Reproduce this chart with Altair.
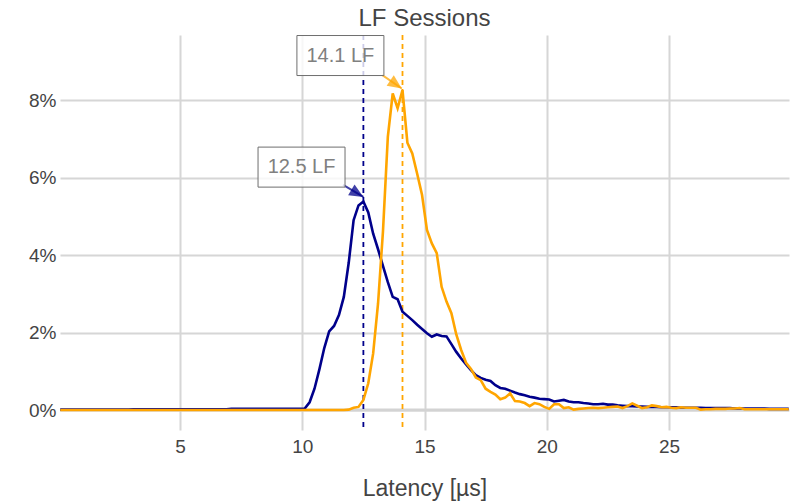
import math
import altair as alt
import pandas as pd

# ---------------- data ----------------
# latency bin centres (µs)
latency = [round(0.1 + 0.2 * i, 1) for i in range(150)]

# share of sessions, series 1 (dark blue)
blue_share = (
    [0.0001] * 15 + [0.0002] * 20 + [0.0003] * 15 +
    [0.0004, 0.0020, 0.0055, 0.0105, 0.0160, 0.0203, 0.0217, 0.0245, 0.0292, 0.0380,
     0.0490, 0.0528, 0.0538, 0.0510, 0.0455, 0.0415, 0.0372, 0.0330, 0.0292, 0.0286,
     0.0254, 0.0243, 0.0232, 0.0220, 0.0209, 0.0198, 0.0189, 0.0195, 0.0191, 0.0190,
     0.0170, 0.0150, 0.0133, 0.0118, 0.0103, 0.0090, 0.0083, 0.0078, 0.0075, 0.0064,
     0.0057, 0.0055, 0.0050, 0.0045, 0.0041, 0.0038, 0.0034, 0.0032, 0.0029, 0.0028,
     0.0027, 0.0022, 0.0024, 0.0026, 0.0022, 0.0020, 0.0020, 0.0018, 0.0017, 0.0015,
     0.0015, 0.0016, 0.0014, 0.0014, 0.0012, 0.0011, 0.0010, 0.0010, 0.0009, 0.0009,
     0.0008, 0.0008, 0.0008, 0.0007, 0.0007,
     0.0007, 0.0007, 0.0006, 0.0006, 0.0006, 0.0006, 0.0006, 0.0005, 0.0005, 0.0005,
     0.0005, 0.0005, 0.0005, 0.0004, 0.0004, 0.0004, 0.0004, 0.0004, 0.0004, 0.0004,
     0.0003, 0.0003, 0.0003, 0.0003, 0.0003]
)

# share of sessions, series 2 (orange)
orange_share = (
    [0.0] * 59 + [0.0001] +
    [0.0006, 0.0008, 0.0026, 0.0069, 0.0146, 0.0275, 0.0460, 0.0705, 0.0817, 0.0779,
     0.0826, 0.0690, 0.0662, 0.0610, 0.0555, 0.0465, 0.0430, 0.0405, 0.0318, 0.0280,
     0.0250, 0.0195, 0.0155, 0.0122, 0.0106, 0.0084, 0.0077, 0.0055, 0.0047, 0.0040,
     0.0028, 0.0032, 0.0043, 0.0023, 0.0022, 0.0018, 0.0010, 0.0018, 0.0015, 0.0008,
     0.0003, 0.0015, 0.0015, 0.0005, 0.0007, 0.0001, 0.0003, 0.0004, 0.0005, 0.0006,
     0.0005, 0.0006, 0.0007, 0.0008, 0.0009, 0.0005, 0.0010, 0.0017, 0.0011, 0.0005,
     0.0007, 0.0012, 0.0010, 0.0007, 0.0008,
     0.0006, 0.0005, 0.0007, 0.0006, 0.0006, 0.0006, 0.0001, 0.0002, 0.0002, 0.0003,
     0.0003, 0.0003, 0.0004, 0.0004, 0.0005, 0.0002, 0.0002, 0.0002, 0.0002, 0.0002,
     0.0002, 0.0002, 0.0002, 0.0002, 0.0002]
)
assert len(blue_share) == len(orange_share) == len(latency)

# peak markers / annotations
peak_x = [12.5, 14.1]
ann_label = ["12.5 LF", "14.1 LF"]
ann_color = ["#00008b", "#ffa500"]
ann_box_x = [9.97, 11.56]
ann_box_y = [0.0627, 0.0915]
ann_tail_x = [11.67, 13.26]
ann_tail_y = [0.0581, 0.0865]
ann_tip_x = [12.50, 14.07]
ann_tip_y = [0.0550, 0.0830]

# ---------------- layout ----------------
W, H = 729, 395
X_DOM = [0.09, 29.91]
Y_DOM = [-0.00516, 0.0968]
FONT = "Liberation Sans"
GRID = "#d6d6d6"

xs = alt.Scale(domain=X_DOM, nice=False, zero=False)
ys = alt.Scale(domain=Y_DOM, nice=False, zero=False)

def ang(i):
    dx = (ann_tip_x[i] - ann_tail_x[i]) * W / (X_DOM[1] - X_DOM[0])
    dy = -(ann_tip_y[i] - ann_tail_y[i]) * H / (Y_DOM[1] - Y_DOM[0])
    return math.degrees(math.atan2(dy, dx))

ann = pd.DataFrame({
    "label": ann_label, "color": ann_color,
    "bx": ann_box_x, "by": ann_box_y,
    "tx": ann_tail_x, "ty": ann_tail_y,
    "hx": ann_tip_x, "hy": ann_tip_y,
    "angle": [ang(0), ang(1)],
})

df_blue = pd.DataFrame({"x": latency, "y": blue_share})
df_orange = pd.DataFrame({"x": latency, "y": orange_share})
df_peak = pd.DataFrame({"x": peak_x, "color": ann_color})

x_axis = alt.Axis(values=[5, 10, 15, 20, 25], title="Latency [µs]", grid=True,
                  gridColor=GRID, gridWidth=2, domain=False, ticks=False, tickSize=0,
                  labelPadding=7, labelFontSize=19, labelColor="#444",
                  titleFontSize=23, titleColor="#444", titleFontWeight="normal",
                  titlePadding=21, labelFont=FONT, titleFont=FONT)
y_axis = alt.Axis(values=[0, 0.02, 0.04, 0.06, 0.08], format=".0%", title=None,
                  grid=True, gridColor=GRID, gridWidth=2, domain=False, ticks=False,
                  tickSize=0, labelPadding=4, labelFontSize=19, labelColor="#444",
                  labelFont=FONT)

zero = alt.Chart(pd.DataFrame({"y": [0.0]})).mark_rule(color="#d3d3d3", strokeWidth=3).encode(
    y=alt.Y("y:Q", scale=ys, axis=y_axis)
)

vlines = alt.Chart(df_peak).mark_rule(strokeDash=[5, 4], strokeWidth=1.8).encode(
    x=alt.X("x:Q", scale=xs, axis=x_axis),
    color=alt.Color("color:N", scale=None),
)

line_blue = alt.Chart(df_blue).mark_line(color="#00008b", strokeWidth=2.6).encode(
    x=alt.X("x:Q", scale=xs, axis=x_axis),
    y=alt.Y("y:Q", scale=ys, axis=y_axis),
)
line_orange = alt.Chart(df_orange).mark_line(color="#ffa500", strokeWidth=2.6).encode(
    x=alt.X("x:Q", scale=xs, axis=x_axis),
    y=alt.Y("y:Q", scale=ys, axis=y_axis),
)

arrows = alt.Chart(ann).mark_rule(strokeWidth=2, opacity=0.75).encode(
    x=alt.X("tx:Q", scale=xs), y=alt.Y("ty:Q", scale=ys),
    x2="hx:Q", y2="hy:Q",
    color=alt.Color("color:N", scale=None),
)
# arrowhead: tip at the symbol origin
heads = alt.Chart(ann).mark_point(
    shape="M0,0L-4,-1.8L-4,1.8Z", filled=True, size=49, opacity=0.75, strokeWidth=0
).encode(
    x=alt.X("hx:Q", scale=xs), y=alt.Y("hy:Q", scale=ys),
    angle=alt.Angle("angle:Q", scale=None),
    color=alt.Color("color:N", scale=None),
)
boxes = alt.Chart(ann).mark_point(
    shape="M-4,-1.84L4,-1.84L4,1.84L-4,1.84Z", size=473, filled=True,
    fill="white", fillOpacity=0.8, stroke="#6e6e6e", strokeWidth=1, opacity=1
).encode(
    x=alt.X("bx:Q", scale=xs), y=alt.Y("by:Q", scale=ys),
)
texts = alt.Chart(ann).mark_text(
    fontSize=20, color="#808080", font=FONT, align="center", baseline="middle"
).encode(
    x=alt.X("bx:Q", scale=xs), y=alt.Y("by:Q", scale=ys), text="label:N",
)

chart = alt.layer(
    zero, vlines, line_blue, line_orange, arrows, heads, boxes, texts
).properties(
    width=W, height=H,
    title=alt.TitleParams("LF Sessions", fontSize=24, color="#444", fontWeight="normal",
                          anchor="middle", frame="group", offset=3, font=FONT),
    autosize=alt.AutoSizeParams(type="none"),
    padding={"left": 52, "top": 27, "right": 3, "bottom": 72},
).configure(background="white").configure_view(stroke=None)

chart.save("out.html", embed_options={"renderer": "svg", "actions": False})
